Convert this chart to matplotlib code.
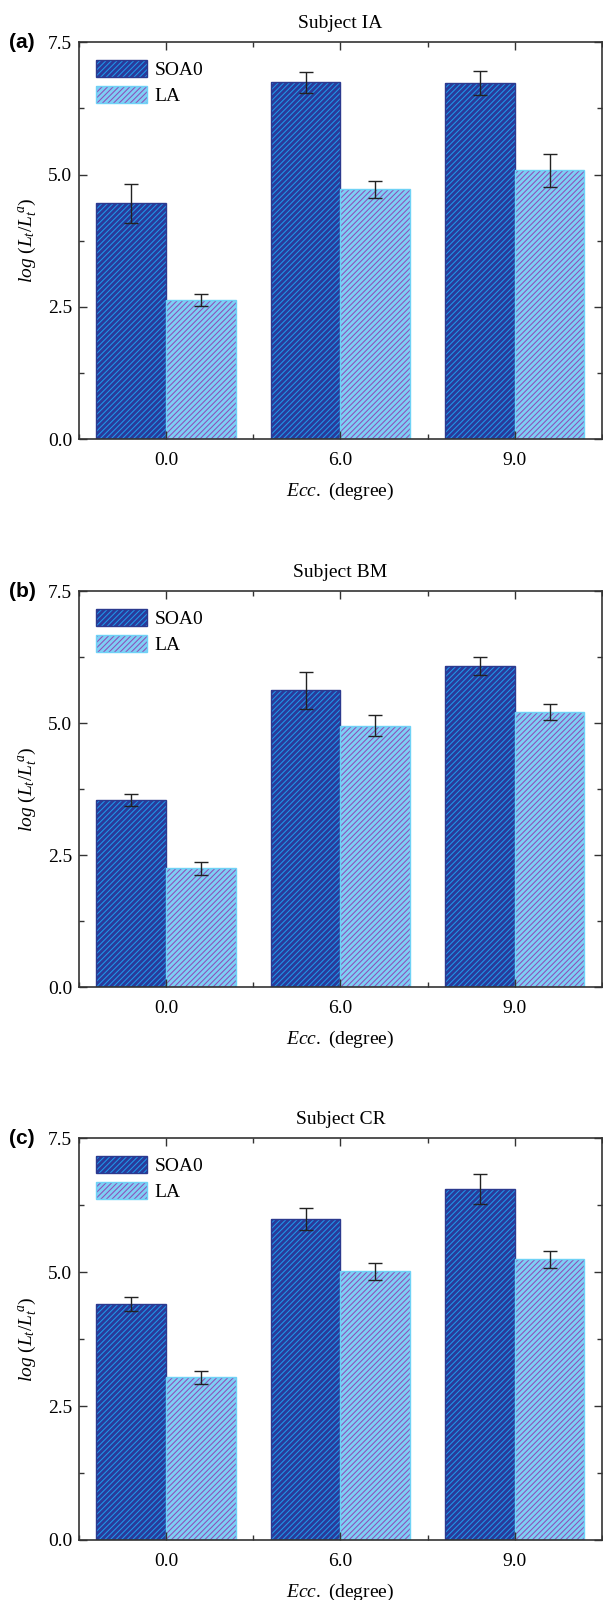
# wykresy - log(Lt/Lt^a) dla trzech osob

from matplotlib import pyplot as plt
import numpy as np

# dane
ecc_labels = ['0.0', '6.0', '9.0']
series_names = ['SOA0', 'LA']
subjects = ['Subject IA', 'Subject BM', 'Subject CR']
panel_tags = ['(a)', '(b)', '(c)']

soa0_a = [4.46, 6.74, 6.73]
soa0_a_err = [0.37, 0.20, 0.22]
la_a = [2.63, 4.72, 5.08]
la_a_err = [0.12, 0.16, 0.31]

soa0_b = [3.54, 5.62, 6.08]
soa0_b_err = [0.12, 0.35, 0.17]
la_b = [2.25, 4.95, 5.21]
la_b_err = [0.12, 0.20, 0.15]

soa0_c = [4.40, 5.99, 6.55]
soa0_c_err = [0.13, 0.21, 0.28]
la_c = [3.04, 5.02, 5.24]
la_c_err = [0.12, 0.16, 0.16]

# czcionki
plt.rcParams['font.family'] = 'Liberation Serif'
plt.rcParams['font.size'] = 14
plt.rcParams['mathtext.fontset'] = 'custom'
plt.rcParams['mathtext.rm'] = 'Liberation Serif'
plt.rcParams['mathtext.it'] = 'Liberation Serif:italic'
plt.rcParams['hatch.linewidth'] = 0.75

# kolory
soa0_face, soa0_hatch, soa0_edge = '#2a3a9a', '#1f98ea', '#2b3a8f'
la_face, la_hatch, la_edge = '#7ecff4', '#8d4fb8', '#6fd2f6'


def panel(ax, soa0, soa0_err, la, la_err, title, tag):
    x = np.arange(len(ecc_labels))
    w = 0.4

    # slupki z kreskowaniem + obramowanie
    h1 = ax.bar(x - w/2, soa0, w, color=soa0_face, edgecolor=soa0_hatch,
                hatch='//////', linewidth=0)
    o1 = ax.bar(x - w/2, soa0, w, facecolor='none', edgecolor=soa0_edge,
                linewidth=1)
    h2 = ax.bar(x + w/2, la, w, color=la_face, edgecolor=la_hatch,
                hatch='//////', linewidth=0)
    o2 = ax.bar(x + w/2, la, w, facecolor='none', edgecolor=la_edge,
                linewidth=1)

    # slupki bledow
    ax.errorbar(x - w/2, soa0, yerr=soa0_err, fmt='none', ecolor='#222222',
                elinewidth=1, capsize=5, capthick=1, zorder=5)
    ax.errorbar(x + w/2, la, yerr=la_err, fmt='none', ecolor='#222222',
                elinewidth=1, capsize=5, capthick=1, zorder=5)

    # zakresy osi
    ax.set_xlim(-0.5, 2.5)
    ax.set_ylim(0, 7.5)

    ax.set_xticks(x)
    ax.set_xticklabels(ecc_labels)
    ax.set_xticks([-0.5, 0.5, 1.5, 2.5], minor=True)
    ax.set_yticks([0, 2.5, 5.0, 7.5])
    ax.set_yticklabels(['0.0', '2.5', '5.0', '7.5'])
    ax.set_yticks([1.25, 3.75, 6.25], minor=True)

    ax.tick_params(which='both', direction='in', top=True, right=True,
                   color='#333333', width=1)
    ax.tick_params(which='major', length=6)
    ax.tick_params(which='minor', length=3.5)
    ax.tick_params(axis='x', pad=9)
    ax.tick_params(axis='y', pad=5)
    for s in ax.spines.values():
        s.set_linewidth(1.2)
        s.set_color('#333333')

    ax.set_title(title, fontsize=14, pad=10)
    ax.set_xlabel(r'$Ecc.$ (degree)', fontsize=14, labelpad=9)
    ax.set_ylabel(r'$log\ (L_t/L_t^{\,a})$', fontsize=14, labelpad=7)

    ax.legend([(h1[0], o1[0]), (h2[0], o2[0])], series_names,
              loc='upper left', frameon=False, fontsize=14,
              handlelength=2.6, handleheight=1.0, labelspacing=0.35,
              handletextpad=0.4, borderaxespad=0.5)

    ax.text(-0.134, 1.0, tag, transform=ax.transAxes, fontsize=15,
            fontweight='bold', family='Liberation Sans', va='center')


# tworzenie wykresu
fig = plt.figure(figsize=(6.03, 16.0), dpi=100)
ax_a = fig.add_axes([0.131, 0.7256, 0.867, 0.248])
ax_b = fig.add_axes([0.131, 0.3831, 0.867, 0.2475])
ax_c = fig.add_axes([0.131, 0.0375, 0.867, 0.2511])

panel(ax_a, soa0_a, soa0_a_err, la_a, la_a_err, subjects[0], panel_tags[0])
panel(ax_b, soa0_b, soa0_b_err, la_b, la_b_err, subjects[1], panel_tags[1])
panel(ax_c, soa0_c, soa0_c_err, la_c, la_c_err, subjects[2], panel_tags[2])

# zapis
fig.savefig('out.png', dpi=100)
